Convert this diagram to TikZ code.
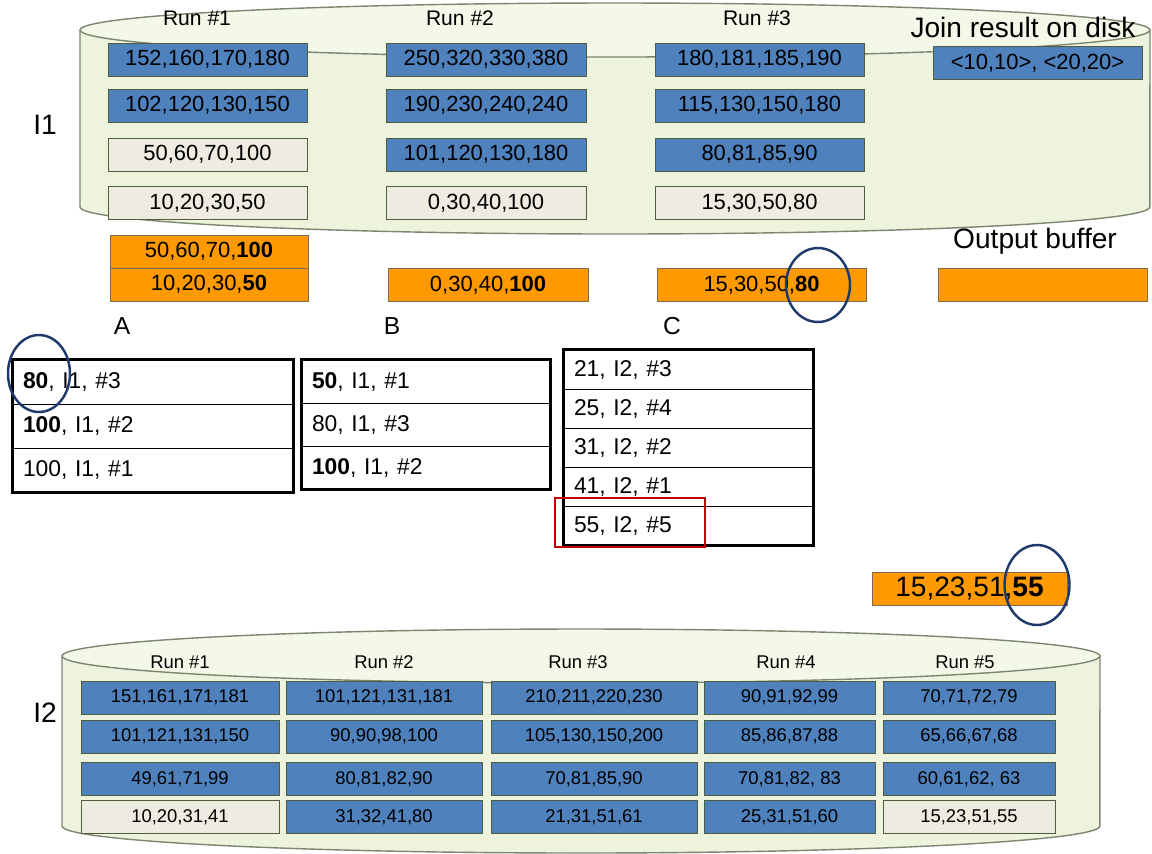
\documentclass[tikz,border=0pt]{standalone}
\usepackage{fontspec}
\setmainfont{Liberation Sans}
\usetikzlibrary{positioning,shapes.geometric}
\definecolor{runblue}{HTML}{4F81BD}
\definecolor{boxline}{HTML}{4E5E3C}
\definecolor{freefill}{HTML}{EEECE1}
\definecolor{bufcol}{HTML}{FF9900}
\definecolor{bufline}{HTML}{7A6A50}
\definecolor{cylfill}{HTML}{EDF3DC}
\definecolor{cyltop}{HTML}{F4F8E8}
\definecolor{cylline}{HTML}{7C8670}
\definecolor{circblue}{HTML}{1F3A6B}
\definecolor{pickred}{HTML}{C00000}
\newcommand{\fsz}[1]{\fontsize{#1}{#1}\selectfont}

\begin{document}
\begin{tikzpicture}[x=0.02cm, y=-0.02cm,
      blk/.style={rectangle, draw=boxline, minimum height=0.66cm, inner sep=0pt, font=\fsz{12.5}},
      used/.style={blk, fill=runblue},
      cur/.style={blk, fill=freefill},
      buf/.style={blk, fill=bufcol, draw=bufline},
      small/.style={font=\fsz{10.5}},
      cyl/.style={fill=cylfill, draw=cylline, thick},
      cyltopface/.style={fill=cyltop, draw=cylline, thick},
      row/.style={rectangle, draw=black, inner xsep=0.2cm, inner ysep=0pt, align=left, font=\fsz{13}},
      tbl/.style={draw=black, line width=1.6pt},
      hilite/.style={ellipse, draw=circblue, line width=1.4pt, inner sep=0pt},
      pickbox/.style={rectangle, draw=pickred, line width=1.5pt, minimum width=3cm, minimum height=0.98cm},
      lbl/.style={font=\fsz{16}},
      run/.style={font=\fsz{12}},
      runsm/.style={font=\fsz{10.5}}
    ]
      \useasboundingbox (0,0) rectangle (1152,853);

      % disk of relation I1
      \filldraw[cyl] (80,30) -- (80,207) arc[start angle=180, end angle=360, x radius=10.7cm, y radius=0.54cm] -- (1150,30) -- cycle;
      \filldraw[cyltopface] (615,30) ellipse [x radius=10.7cm, y radius=0.54cm];
      \node[lbl] (i1) at (45,125) {I1};
      \node[run] (runA) at (197,18) {Run \#1};
      \node[run] (runB) at (460,18) {Run \#2};
      \node[run] (runC) at (757,18) {Run \#3};
      \node[lbl] (join) at (1023,27) {Join result on disk};

      \node[used, minimum width=3.98cm] (a4) at (207.5,59.5)  {152,160,170,180};
      \node[used, minimum width=3.98cm] (a3) at (207.5,105.5) {102,120,130,150};
      \node[cur,  minimum width=3.98cm] (a2) at (207.5,154.5) {50,60,70,100};
      \node[cur,  minimum width=3.98cm] (a1) at (207.5,203)   {10,20,30,50};
      \node[used, minimum width=4cm] (b4) at (486,59.5)  {250,320,330,380};
      \node[used, minimum width=4cm] (b3) at (486,105.5) {190,230,240,240};
      \node[used, minimum width=4cm] (b2) at (486,154.5) {101,120,130,180};
      \node[cur,  minimum width=4cm] (b1) at (486,203)   {0,30,40,100};
      \node[used, minimum width=4.18cm] (c4) at (759.5,59.5)  {180,181,185,190};
      \node[used, minimum width=4.18cm] (c3) at (759.5,105.5) {115,130,150,180};
      \node[used, minimum width=4.18cm] (c2) at (759.5,154.5) {80,81,85,90};
      \node[cur,  minimum width=4.18cm] (c1) at (759.5,203)   {15,30,50,80};
      \node[used, minimum width=4.18cm] (res) at (1037.5,63) {<10,10>, <20,20>};

      % input and output buffers
      \node[buf, minimum width=3.96cm] (bufA2) at (209,251.5) {50,60,70,\textbf{100}};
      \node[buf, minimum width=3.96cm] (bufA1) at (209,284.5) {10,20,30,\textbf{50}};
      \node[buf, minimum width=4cm] (bufB) at (488,285) {0,30,40,\textbf{100}};
      \node[buf, minimum width=4.18cm] (bufC) at (761.5,285) {15,30,50,\textbf{80}};
      \node[buf, minimum width=4.18cm] (bufOut) at (1042.5,285) {};
      \node[lbl] (outlbl) at (1035,241) {Output buffer};
      \node[font=\fsz{14}] (labA) at (122,326) {A};
      \node[font=\fsz{14}] (labB) at (392,326) {B};
      \node[font=\fsz{14}] (labC) at (672,326) {C};

      % heaps
      \node[row, text width=5.2cm, minimum height=0.88cm] (tA1) at (153,382) {\textbf{80}, I1, \#3};
      \node[row, text width=5.2cm, minimum height=0.88cm] (tA2) at (153,426) {\textbf{100}, I1, \#2};
      \node[row, text width=5.2cm, minimum height=0.88cm] (tA3) at (153,470) {100, I1, \#1};
      \draw[tbl] (tA1.north west) rectangle (tA3.south east);
      \node[row, text width=4.56cm, minimum height=0.86cm] (tB1) at (426,381.5) {\textbf{50}, I1, \#1};
      \node[row, text width=4.56cm, minimum height=0.86cm] (tB2) at (426,424.5) {80, I1, \#3};
      \node[row, text width=4.56cm, minimum height=0.86cm] (tB3) at (426,467.5) {\textbf{100}, I1, \#2};
      \draw[tbl] (tB1.north west) rectangle (tB3.south east);
      \node[row, text width=4.58cm, minimum height=0.78cm] (tC1) at (688.5,369.5) {21, I2, \#3};
      \node[row, text width=4.58cm, minimum height=0.78cm] (tC2) at (688.5,408.5) {25, I2, \#4};
      \node[row, text width=4.58cm, minimum height=0.78cm] (tC3) at (688.5,447.5) {31, I2, \#2};
      \node[row, text width=4.58cm, minimum height=0.78cm] (tC4) at (688.5,486.5) {41, I2, \#1};
      \node[row, text width=4.58cm, minimum height=0.78cm] (tC5) at (688.5,525.5) {55, I2, \#5};
      \draw[tbl] (tC1.north west) rectangle (tC5.south east);
      \node[pickbox] (pick) at (630,522.5) {};

      \node[buf, minimum width=3.9cm, font=\fsz{16}] (merged) at (969.5,588.5) {15,23,51,\textbf{55}};

      % disk of relation I2
      \filldraw[cyl] (62,656) -- (62,826) arc[start angle=180, end angle=360, x radius=10.38cm, y radius=0.54cm] -- (1100,656) -- cycle;
      \filldraw[cyltopface] (581,656) ellipse [x radius=10.38cm, y radius=0.54cm];
      \node[lbl] (i2) at (45,713) {I2};
      \node[runsm] (run1) at (180,662) {Run \#1};
      \node[runsm] (run2) at (384,662) {Run \#2};
      \node[runsm] (run3) at (578,662) {Run \#3};
      \node[runsm] (run4) at (786,662) {Run \#4};
      \node[runsm] (run5) at (965,662) {Run \#5};

      \node[used, small, minimum width=3.96cm] (p4) at (180,697.5) {151,161,171,181};
      \node[used, small, minimum width=3.96cm] (p3) at (180,736.5) {101,121,131,150};
      \node[used, small, minimum width=3.96cm] (p2) at (180,779)   {49,61,71,99};
      \node[cur,  small, minimum width=3.96cm] (p1) at (180,817)   {10,20,31,41};
      \node[used, small, minimum width=3.92cm] (q4) at (384,697.5) {101,121,131,181};
      \node[used, small, minimum width=3.92cm] (q3) at (384,736.5) {90,90,98,100};
      \node[used, small, minimum width=3.92cm] (q2) at (384,779)   {80,81,82,90};
      \node[used, small, minimum width=3.92cm] (q1) at (384,817)   {31,32,41,80};
      \node[used, small, minimum width=4.12cm] (s4) at (594,697.5) {210,211,220,230};
      \node[used, small, minimum width=4.12cm] (s3) at (594,736.5) {105,130,150,200};
      \node[used, small, minimum width=4.12cm] (s2) at (594,779)   {70,81,85,90};
      \node[used, small, minimum width=4.12cm] (s1) at (594,817)   {21,31,51,61};
      \node[used, small, minimum width=3.42cm] (u4) at (789.5,697.5) {90,91,92,99};
      \node[used, small, minimum width=3.42cm] (u3) at (789.5,736.5) {85,86,87,88};
      \node[used, small, minimum width=3.42cm] (u2) at (789.5,779)   {70,81,82, 83};
      \node[used, small, minimum width=3.42cm] (u1) at (789.5,817)   {25,31,51,60};
      \node[used, small, minimum width=3.44cm] (v4) at (969,697.5) {70,71,72,79};
      \node[used, small, minimum width=3.44cm] (v3) at (969,736.5) {65,66,67,68};
      \node[used, small, minimum width=3.44cm] (v2) at (969,779)   {60,61,62, 63};
      \node[cur,  small, minimum width=3.44cm] (v1) at (969,817)   {15,23,51,55};

      % current minima
      \node[hilite, minimum width=1.24cm, minimum height=1.54cm] (hlA) at (39,373.5) {};
      \node[hilite, minimum width=1.28cm, minimum height=1.48cm] (hlC) at (818,285) {};
      \node[hilite, minimum width=1.3cm, minimum height=1.6cm] (hlOut) at (1037,585) {};
    \end{tikzpicture}
\end{document}
